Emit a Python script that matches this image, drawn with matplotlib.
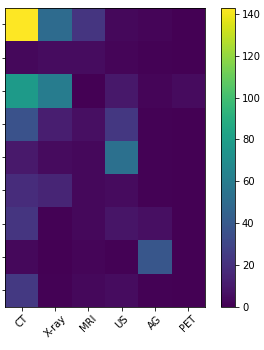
import matplotlib
matplotlib.use("Agg")
import matplotlib.pyplot as plt
import numpy as np

modalities = ["CT", "X-ray", "MRI", "US", "AG", "PET"]
row_labels = ["", "", "", "", "", "", "", "", ""]

ct = [143, 3, 78, 36, 10, 18, 22, 3, 24]
xray = [50, 5, 60, 12, 4, 15, 1, 0, 1]
mri = [22, 5, 0, 6, 3, 3, 3, 2, 3]
us = [3, 2, 9, 23, 53, 4, 8, 1, 5]
ag = [2, 1, 2, 1, 1, 1, 6, 38, 1]
pet = [0, 0, 4, 0, 0, 0, 0, 0, 0]

data = np.array([ct, xray, mri, us, ag, pet]).T

dpi = 72
fig = plt.figure(figsize=(264 / dpi, 350 / dpi), dpi=dpi)
ax = fig.add_axes([5 / 264, 43.3 / 350, 200 / 264, 299 / 350])
cax = fig.add_axes([220.7 / 264, 43.3 / 350, 14.3 / 264, 299 / 350])

im = ax.imshow(data, cmap="viridis", aspect="auto", vmin=0)
ax.set_xticks(range(len(modalities)))
ax.set_xticklabels(modalities, rotation=45)
ax.set_yticks(range(len(row_labels)))
ax.set_yticklabels(row_labels)

fig.colorbar(im, cax=cax)

fig.savefig("out.png", dpi=dpi)
